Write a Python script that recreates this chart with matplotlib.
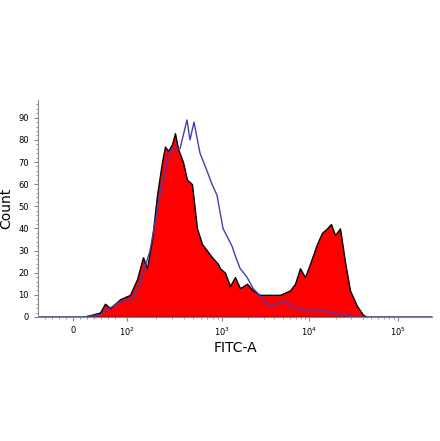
import matplotlib
matplotlib.use("Agg")
import matplotlib.pyplot as plt
import numpy as np

# channel positions (display units) and counts
red_x = [38, 83, 100, 105, 110, 120, 130, 137, 143, 147, 152, 157, 162, 165, 168, 172, 175, 178,
         183, 187, 192, 197, 202, 207, 212, 218, 220, 225, 230, 235, 240, 247, 253, 260, 270,
         280, 290, 295, 300, 305, 310, 317, 322, 327, 331, 335, 340, 345, 350, 357, 363, 367, 432]
red_y = [0, 0, 2, 6, 4, 8, 10, 17, 27, 22, 35, 55, 70, 77, 75, 78, 83, 76,
         70, 62, 60, 40, 33, 30, 27, 24, 22, 20, 14, 18, 13, 15, 12, 10, 10,
         10, 12, 15, 22, 18, 24, 33, 38, 40, 42, 37, 40, 25, 12, 5, 1, 0, 0]

blue_x = [38, 83, 100, 110, 120, 133, 140, 150, 160, 167, 172, 180, 187, 190, 194, 200, 207, 212,
          217, 223, 232, 235, 240, 247, 253, 263, 270, 277, 287, 293, 307, 320, 333, 343, 357, 432]
blue_y = [0, 0, 1, 4, 7, 8, 15, 30, 55, 70, 76, 76, 89, 80, 88, 74, 66, 60,
          55, 40, 32, 28, 22, 18, 13, 8, 5, 6, 7, 4, 3, 3, 2, 1, 0, 0]

tick_pos = [73, 127, 222, 309, 398]
tick_labels = ["0", "$10^2$", "$10^3$", "$10^4$", "$10^5$"]

fig = plt.figure(figsize=(4.4, 4.41), dpi=100)
ax = fig.add_axes([38 / 440, 124 / 441, 394 / 440, 217 / 441])

ax.fill_between(red_x, red_y, color="#ff0000", edgecolor="black", linewidth=1.0)
ax.plot(blue_x, blue_y, color="#4040b0", linewidth=1.0)

ax.set_xlim(38, 432)
ax.set_ylim(0, 98)
ax.set_yticks(range(0, 91, 10))
ax.set_yticks(range(0, 98, 2), minor=True)
ax.set_xticks(tick_pos)
ax.set_xticklabels(tick_labels)

# minor ticks inside each decade
minor = []
for a, b in zip(tick_pos[1:-1], tick_pos[2:]):
    minor += list(a + (b - a) * np.log10(np.arange(2, 10)))
minor += [45, 52, 59, 66, 80, 87, 94, 101, 108, 115]
ax.set_xticks(minor, minor=True)

ax.tick_params(labelsize=6, length=3, color="#888888")
ax.tick_params(which="minor", length=1.5, color="#888888")

for s in ["top", "right"]:
    ax.spines[s].set_visible(False)
for s in ["left", "bottom"]:
    ax.spines[s].set_color("#888888")

ax.set_xlabel("FITC-A", fontsize=10, labelpad=2)
ax.set_ylabel("Count", fontsize=10, labelpad=4)

fig.savefig("out.png", dpi=100)
